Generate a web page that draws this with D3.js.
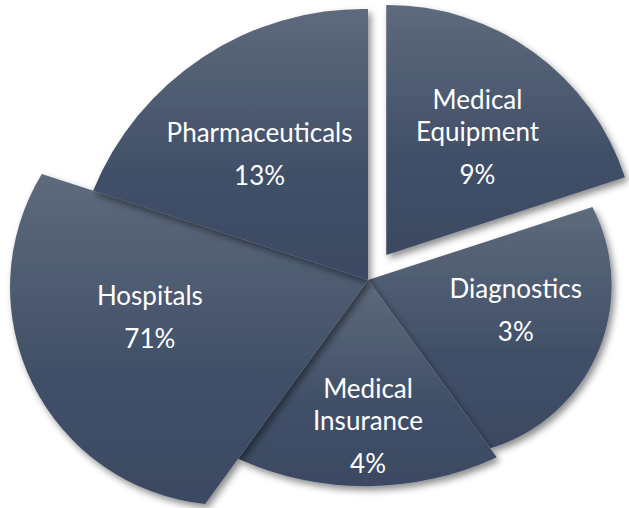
<!DOCTYPE html>
<html>
<head>
<meta charset="utf-8">
<script src="https://cdn.jsdelivr.net/npm/d3@7"></script>
<style>
  html, body { margin: 0; padding: 0; background: #fff; }
  .sliceText { fill: #fff; font-family: Lato, "Open Sans", sans-serif; font-size: 26px; text-anchor: middle; }
</style>
</head>
<body>
<div id="pie"></div>
<script>
// chart data
var categories = ["Medical Equipment", "Diagnostics", "Medical Insurance", "Hospitals", "Pharmaceuticals"];
var nameLines = [["Medical", "Equipment"], ["Diagnostics"], ["Medical", "Insurance"], ["Hospitals"], ["Pharmaceuticals"]];
var percentLabels = ["9%", "3%", "4%", "71%", "13%"];
// the wedges are drawn the same size in the picture (5 x 72 degrees)
var sliceShare = [20, 20, 20, 20, 20];

// svg area
var svgWidth = 629;
var svgHeight = 508;
var center = [368, 280];

// per-wedge shape: radius at start / end edge, bend of the rim, explode distance, stacking
var wedgeLayout = {
    "Medical Equipment": {r0: 250, r1: 251, bend: 250, explode: 31, z: 4, labelR: 142, labelTurn: 4},
    "Diagnostics":       {r0: 236, r1: 208, bend: 170, explode: 0,  z: 0, labelR: 153, labelTurn: -3},
    "Medical Insurance": {r0: 219, r1: 221, bend: 311, explode: 0,  z: 1, labelR: 155, labelTurn: 0},
    "Hospitals":         {r0: 277, r1: 343, bend: 218, explode: 0,  z: 2, labelR: 223, labelTurn: 6},
    "Pharmaceuticals":   {r0: 289, r1: 271, bend: 292, explode: 0,  z: 3, labelR: 159, labelTurn: -7}
};
var nameStep = 32;
var pctStep = 43;

var svg = d3.select('#pie')
    .append('svg')
    .attr('width', svgWidth)
    .attr('height', svgHeight);

var defs = svg.append('defs');

var grad = defs.append('linearGradient')
    .attr('id', 'wedgeFill')
    .attr('x1', 0).attr('y1', 0)
    .attr('x2', 0).attr('y2', 1);
grad.append('stop').attr('offset', 0).attr('stop-color', '#5e6a7c');
grad.append('stop').attr('offset', 0.6).attr('stop-color', '#415068');
grad.append('stop').attr('offset', 1).attr('stop-color', '#3b4963');

var shadow = defs.append('filter')
    .attr('id', 'wedgeShadow')
    .attr('x', '-20%').attr('y', '-20%')
    .attr('width', '140%').attr('height', '140%');
shadow.append('feDropShadow')
    .attr('dx', 3).attr('dy', 4)
    .attr('stdDeviation', 3.5)
    .attr('flood-color', '#000')
    .attr('flood-opacity', 0.45);

var rows = categories.map(function(c, i) {
    return {name: c, share: sliceShare[i], lines: nameLines[i], pct: percentLabels[i]};
});

var pie = d3.pie()
    .sort(null)
    .value(function(d) { return d.share; });

var arcs = pie(rows);

function polar(p, r, a) {
    return [p[0] + r * Math.sin(a), p[1] - r * Math.cos(a)];
}

// vertex of each wedge (moved out along the middle angle when exploded)
arcs.forEach(function(d) {
    var g = wedgeLayout[d.data.name];
    d.mid = (d.startAngle + d.endAngle) / 2;
    d.vertex = polar(center, g.explode, d.mid);
});

function wedgePath(d) {
    var g = wedgeLayout[d.data.name];
    var c0 = polar(d.vertex, g.r0, d.startAngle);
    var c1 = polar(d.vertex, g.r1, d.endAngle);
    var p = d3.path();
    p.moveTo(d.vertex[0], d.vertex[1]);
    p.lineTo(c0[0], c0[1]);
    return p.toString() + 'A' + g.bend + ',' + g.bend + ' 0 0 1 ' + c1[0] + ',' + c1[1] + 'Z';
}

var ordered = arcs.slice().sort(function(a, b) {
    return wedgeLayout[a.data.name].z - wedgeLayout[b.data.name].z;
});

svg.append('g')
    .selectAll('path')
    .data(ordered)
    .enter()
    .append('path')
    .attr('d', wedgePath)
    .attr('fill', 'url(#wedgeFill)')
    .attr('filter', 'url(#wedgeShadow)');

// labels
var labels = svg.append('g')
    .selectAll('g')
    .data(arcs)
    .enter()
    .append('g')
    .attr('transform', function(d) {
        var g = wedgeLayout[d.data.name];
        var pt = polar(d.vertex, g.labelR, d.mid + g.labelTurn * Math.PI / 180);
        var block = nameStep * (d.data.lines.length - 1) + pctStep;
        return 'translate(' + pt[0] + ',' + (pt[1] - block / 2) + ')';
    });

labels.each(function(d) {
    var g = d3.select(this);
    d.data.lines.forEach(function(t, i) {
        g.append('text')
            .attr('class', 'sliceText')
            .attr('y', i * nameStep)
            .text(t);
    });
    g.append('text')
        .attr('class', 'sliceText')
        .attr('y', nameStep * (d.data.lines.length - 1) + pctStep)
        .text(d.data.pct);
});
</script>
</body>
</html>
